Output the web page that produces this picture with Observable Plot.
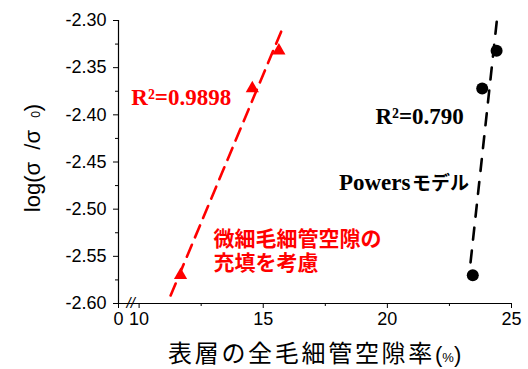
<!DOCTYPE html>
<html>
<head>
<meta charset="utf-8">
<script src="https://cdn.jsdelivr.net/npm/d3@7"></script>
<script src="https://cdn.jsdelivr.net/npm/@observablehq/plot@0.6"></script>
<style>
  body { margin: 0; background: #fff; }
  #chart { width: 528px; height: 369px; }
</style>
</head>
<body>
<div id="chart"></div>
<script>
// Surface-layer capillary porosity (%) vs log(σ/σ0)
// Micro-capillary filling model (red triangles)
const fillPorosity = [11.67, 14.56, 15.63];
const fillLogSigma = [-2.570, -2.372, -2.332];
// Powers model (black circles)
const powersPorosity = [23.44, 23.82, 24.40];
const powersLogSigma = [-2.570, -2.372, -2.332];

// End points of the fitted regression lines
const fillFitX = [11.27, 15.77];
const fillFitY = [-2.5915, -2.3088];
const powersFitX = [23.35, 24.41];
const powersFitY = [-2.5565, -2.300];

// Axes (the x axis is broken between 0 and 10)
const xMin = 9.17, xMax = 25;
const yMin = -2.60, yMax = -2.30;
const xTickValues = [xMin, 10, 15, 20, 25];
const xTickLabels = ["0", "10", "15", "20", "25"];
const xMinorTicks = [12.5, 17.5, 22.5];
const yTickValues = [-2.60, -2.55, -2.50, -2.45, -2.40, -2.35, -2.30];
const yMinorTicks = [-2.575, -2.525, -2.475, -2.425, -2.375, -2.325];
const axisBreakAt = [9.66];

// Annotation texts
const fillR2 = "R²=0.9898";
const powersR2 = "R²=0.790";
const fillNote = "微細毛細管空隙の\n充填を考慮";
const powersNoteLatin = "Powers";
const powersNoteKana = "モデル";
const xTitle = "表層の全毛細管空隙率";

const sans = "'Liberation Sans', Arial, 'Noto Sans CJK JP', sans-serif";
const serif = "'Liberation Serif', 'Times New Roman', serif";
const cjk = "'Noto Sans CJK JP', 'Noto Sans CJK SC', sans-serif";
const RED = "#ff0000";

const fillPts = fillPorosity.map((x, i) => ({x, y: fillLogSigma[i]}));
const powersPts = powersPorosity.map((x, i) => ({x, y: powersLogSigma[i]}));
const fillFit = fillFitX.map((x, i) => ({x, y: fillFitY[i]}));
const powersFit = powersFitX.map((x, i) => ({x, y: powersFitY[i]}));
const xLabelOf = new Map(xTickValues.map((v, i) => [v, xTickLabels[i]]));

const plot = Plot.plot({
  width: 528,
  height: 369,
  marginLeft: 118,
  marginRight: 17,
  marginTop: 20,
  marginBottom: 66,
  x: {domain: [xMin, xMax]},
  y: {domain: [yMin, yMax]},
  style: {fontFamily: sans, fontSize: "18px", color: "#000", background: "#fff", overflow: "visible"},
  marks: [
    // axis lines
    Plot.ruleY([yMin], {stroke: "#000", strokeWidth: 1.2}),
    Plot.ruleX([xMin], {y1: yMin, y2: yMax, stroke: "#000", strokeWidth: 1.2}),
    // ticks and tick labels
    Plot.axisX({ticks: xTickValues, tickFormat: d => xLabelOf.get(d), tickSize: 5, tickPadding: 4, label: null, fontSize: 18}),
    Plot.axisX({ticks: xMinorTicks, tickFormat: () => "", tickSize: 3, label: null}),
    Plot.axisY({ticks: yTickValues, tickFormat: d => d.toFixed(2), tickSize: 5, tickPadding: 7, label: null, fontSize: 18}),
    Plot.axisY({ticks: yMinorTicks, tickFormat: () => "", tickSize: 3, label: null}),
    // axis break mark
    Plot.text(axisBreakAt, {x: d => d, y: () => yMin, text: () => "//", fontSize: 15, fontStyle: "italic", fill: "#000"}),
    // fitted lines
    Plot.line(fillFit, {x: "x", y: "y", stroke: RED, strokeWidth: 2.6, strokeDasharray: "13,8"}),
    Plot.line(powersFit, {x: "x", y: "y", stroke: "#000", strokeWidth: 2.6, strokeDasharray: "12,11"}),
    // measured points
    Plot.dot(fillPts, {x: "x", y: "y", symbol: "triangle", r: 4.9, fill: RED, stroke: "none"}),
    Plot.dot(powersPts, {x: "x", y: "y", symbol: "circle", r: 6, fill: "#000", stroke: "none"}),
    // annotations
    Plot.text([fillR2], {text: d => d, x: () => 9.686, y: () => -2.390, textAnchor: "start", lineAnchor: "bottom",
      fontFamily: serif, fontWeight: "bold", fontSize: 23, fill: RED}),
    Plot.text([powersR2], {text: d => d, x: () => 19.52, y: () => -2.4096, textAnchor: "start", lineAnchor: "bottom",
      fontFamily: serif, fontWeight: "bold", fontSize: 23, fill: "#000"}),
    Plot.text([powersNoteLatin], {text: d => d, x: () => 18.05, y: () => -2.4802, textAnchor: "start", lineAnchor: "bottom",
      fontFamily: serif, fontWeight: "bold", fontSize: 23, fill: "#000"}),
    Plot.text([powersNoteKana], {text: d => d, x: () => 18.05, y: () => -2.4802, dx: 73, textAnchor: "start", lineAnchor: "bottom",
      fontFamily: cjk, fontWeight: "bold", fontSize: 19, fill: "#000"}),
    Plot.text([fillNote], {text: d => d, x: () => 13.0, y: () => -2.5212, textAnchor: "start", lineAnchor: "top",
      fontFamily: cjk, fontWeight: "bold", fontSize: 21, lineHeight: 1.15, fill: RED})
  ]
});

document.getElementById("chart").appendChild(plot);

// axis titles (with a subscript and a smaller unit sign)
const svg = d3.select(plot);
const yTitle = svg.append("text")
  .attr("transform", "translate(40,158) rotate(-90)")
  .attr("text-anchor", "middle")
  .attr("font-family", sans)
  .attr("font-size", 22)
  .attr("fill", "#000")
  .style("white-space", "pre");
yTitle.append("tspan").text("log(σ  /σ  ");
yTitle.append("tspan").attr("font-size", 12).text("0");
yTitle.append("tspan").text(")");

const xTitleEl = svg.append("text")
  .attr("x", 168)
  .attr("y", 362)
  .attr("text-anchor", "start")
  .attr("font-family", cjk)
  .attr("font-size", 24)
  .attr("fill", "#000");
xTitleEl.append("tspan").attr("letter-spacing", 2.7).text(xTitle);
xTitleEl.append("tspan").attr("font-family", sans).attr("font-size", 22).text("(");
xTitleEl.append("tspan").attr("font-family", sans).attr("font-size", 13).text("%");
xTitleEl.append("tspan").attr("font-family", sans).attr("font-size", 22).text(")");
</script>
</body>
</html>
